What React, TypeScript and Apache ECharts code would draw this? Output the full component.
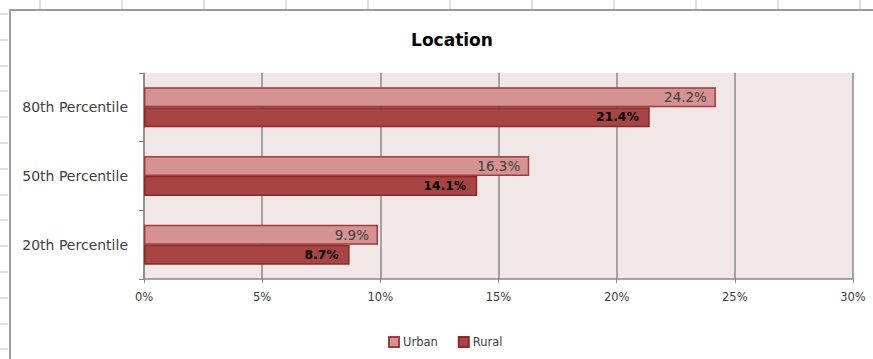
import React, { useEffect, useRef } from "react";
import * as echarts from "echarts";

const categories = ["20th Percentile", "50th Percentile", "80th Percentile"];
const urbanValues = [9.9, 16.3, 24.2];
const ruralValues = [8.7, 14.1, 21.4];
const seriesNames = ["Urban", "Rural"];
const titleText = "Location";

const FONT = "'DejaVu Sans', sans-serif";

export default function App() {
  const ref = useRef<HTMLDivElement>(null);

  useEffect(() => {
    if (!ref.current) return;
    const chart = echarts.init(ref.current, null, { renderer: "svg" });

    const graphics: any[] = [];
    // spreadsheet background grid (outside chart frame)
    for (let x = 40; x < 873; x += 82) {
      graphics.push({
        type: "line",
        shape: { x1: x, y1: 0, x2: x, y2: 9 },
        style: { stroke: "#d6d6d6", lineWidth: 1.5 },
        silent: true,
      });
    }
    for (let y = 14; y < 359; y += 25.8) {
      graphics.push({
        type: "line",
        shape: { x1: 0, y1: Math.round(y), x2: 8, y2: Math.round(y) },
        style: { stroke: "#d6d6d6", lineWidth: 1.5 },
        silent: true,
      });
    }
    // chart frame
    graphics.push({
      type: "polyline",
      shape: { points: [[10, 359], [10, 10], [873, 10]] },
      style: { stroke: "#9c9c9c", lineWidth: 2, fill: null },
      silent: true,
    });

    chart.setOption({
      animation: false,
      backgroundColor: "#ffffff",
      title: {
        text: titleText,
        left: 447,
        textAlign: "center",
        top: 26,
        textStyle: { fontFamily: FONT, fontSize: 17, fontWeight: "bold", color: "#000" },
      },
      legend: {
        data: seriesNames,
        left: 383,
        top: 331,
        icon: "rect",
        itemWidth: 10,
        itemHeight: 10,
        itemGap: 20,
        textStyle: { fontFamily: FONT, fontSize: 11.5, color: "#404040", padding: [0, 0, 0, -1] },
      },
      grid: {
        left: 144,
        right: 20,
        top: 73,
        bottom: 80,
        show: true,
        backgroundColor: "#f2e7e7",
        borderWidth: 0,
      },
      xAxis: {
        type: "value",
        min: 0,
        max: 30,
        interval: 5,
        axisLine: { show: true, lineStyle: { color: "#8a8a8a", width: 1.5 } },
        axisTick: { show: true, length: 4, lineStyle: { color: "#8a8a8a" } },
        axisLabel: {
          formatter: "{value}%",
          fontFamily: FONT,
          fontSize: 11.5,
          color: "#404040",
          margin: 12,
        },
        splitLine: { show: true, lineStyle: { color: "#8a8a8a", width: 1.5 } },
      },
      yAxis: {
        type: "category",
        data: categories,
        axisLine: { show: true, lineStyle: { color: "#8a8a8a", width: 1.5 } },
        axisTick: { show: true, length: 5, lineStyle: { color: "#8a8a8a" } },
        axisLabel: {
          fontFamily: FONT,
          fontSize: 14,
          color: "#404040",
          margin: 16,
        },
      },
      series: [
        {
          name: seriesNames[0],
          type: "bar",
          data: urbanValues,
          barWidth: 20,
          barGap: "0%",
          itemStyle: { color: "#d49292", borderColor: "#a53a3a", borderWidth: 1.5 },
          label: {
            show: true,
            position: "insideRight",
            distance: 9,
            formatter: (p: any) => p.value.toFixed(1) + "%",
            fontFamily: FONT,
            fontSize: 13.5,
            color: "#404040",
          },
        },
        {
          name: seriesNames[1],
          type: "bar",
          data: ruralValues,
          barWidth: 20,
          barGap: "0%",
          itemStyle: { color: "#a84444", borderColor: "#8c2a2a", borderWidth: 1.5 },
          label: {
            show: true,
            position: "insideRight",
            distance: 11,
            formatter: (p: any) => p.value.toFixed(1) + "%",
            fontFamily: FONT,
            fontSize: 12.3,
            fontWeight: "bold",
            color: "#000",
          },
        },
      ],
      graphic: graphics,
    });

    return () => chart.dispose();
  }, []);

  return (
    <div
      ref={ref}
      style={{ position: "absolute", left: 0, top: 0, width: 873, height: 359 }}
    />
  );
}
